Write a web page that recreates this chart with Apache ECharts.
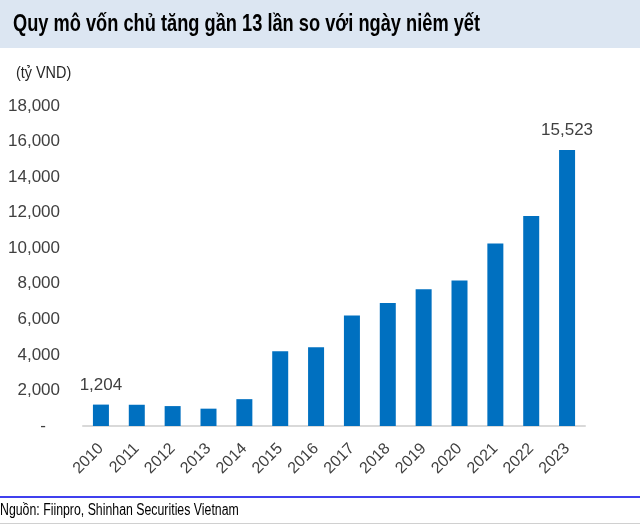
<!DOCTYPE html>
<html><head><meta charset="utf-8">
<script src="https://cdn.jsdelivr.net/npm/echarts@6/dist/echarts.min.js"></script>
<style>html,body{margin:0;padding:0;background:#fff}#c{width:640px;height:525px}</style>
</head><body><div id="c"></div>
<script>
const titleText = 'Quy mô vốn chủ tăng gần 13 lần so với ngày niêm yết';
const unitText = '(tỷ VND)';
const sourceText = 'Nguồn: Fiinpro, Shinhan Securities Vietnam';
const years = ['2010','2011','2012','2013','2014','2015','2016','2017','2018','2019','2020','2021','2022','2023'];
const equity = [1204, 1195, 1120, 975, 1510, 4200, 4430, 6210, 6920, 7690, 8190, 10260, 11810, 15523];
const labeledYears = ['2010','2023'];
const yTicks = [0, 2000, 4000, 6000, 8000, 10000, 12000, 14000, 16000, 18000];

const sans = '"Liberation Sans",Arial,sans-serif';
const chart = echarts.init(document.getElementById('c'));
chart.setOption({
  animation: false,
  backgroundColor: '#ffffff',
  graphic: [
    { type: 'rect', shape: { x: 0, y: 0, width: 640, height: 48 }, style: { fill: '#dce6f2' }, silent: true },
    { type: 'text', x: 13, y: 12, scaleX: 0.76, style: { text: titleText, font: 'bold 24px ' + sans, fill: '#000000' } },
    { type: 'text', x: 16, y: 66, scaleX: 0.9, style: { text: unitText, font: '16px ' + sans, fill: '#262626' } },
    { type: 'rect', shape: { x: 0, y: 496, width: 640, height: 2 }, style: { fill: '#4040ee' }, silent: true },
    { type: 'text', x: 0, y: 503, scaleX: 0.77, style: { text: sourceText, font: '16px ' + sans, fill: '#000000' } },
    { type: 'rect', shape: { x: 0, y: 523, width: 640, height: 1 }, style: { fill: '#d0d0d0' }, silent: true }
  ],
  grid: { left: 83, right: 55, top: 106, bottom: 99, containLabel: false },
  xAxis: {
    type: 'category',
    data: years,
    axisLine: { show: true, lineStyle: { color: '#d9d9d9', width: 2 } },
    axisTick: { show: false },
    axisLabel: { rotate: 45, color: '#404040', fontSize: 16, fontFamily: sans, margin: 20 }
  },
  yAxis: {
    type: 'value',
    min: yTicks[0],
    max: yTicks[yTicks.length - 1],
    interval: 2000,
    splitLine: { show: false },
    axisLine: { show: false },
    axisTick: { show: false },
    axisLabel: {
      color: '#404040', fontSize: 17, fontFamily: sans, margin: 23,
      formatter: v => v === 0 ? '-   ' : v.toLocaleString('en-US')
    }
  },
  series: [{
    type: 'bar',
    data: equity.map((v, i) => ({
      value: v,
      label: { show: labeledYears.includes(years[i]) }
    })),
    barWidth: 16,
    itemStyle: { color: '#0070c0' },
    label: {
      position: 'top', distance: 11, color: '#404040', fontSize: 17,
      fontFamily: sans,
      formatter: p => p.value.toLocaleString('en-US')
    }
  }]
});
</script></body></html>
